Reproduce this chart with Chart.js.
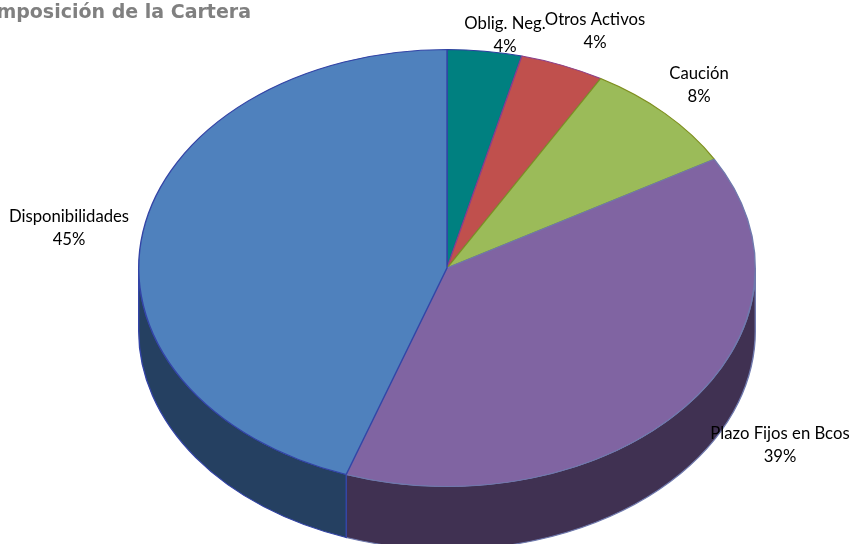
<!DOCTYPE html>
<html>
<head>
<meta charset="utf-8">
<title>Composición de la Cartera</title>
<script src="https://cdn.jsdelivr.net/npm/chart.js@4"></script>
<style>
    html, body { margin: 0; padding: 0; background: #fff; overflow: hidden; }
    #wrap { width: 850px; height: 544px; }
</style>
</head>
<body>
<div id="wrap"><canvas id="chart" width="850" height="544"></canvas></div>
<script>
const chartTitle = 'Composición de la Cartera';
const categories = ['Oblig. Neg.', 'Otros Activos', 'Caución', 'Plazo Fijos en Bcos', 'Disponibilidades'];
const values = [3.9, 4.4, 8.4, 38.6, 44.7];

const topColors = ['#008080', '#C0504D', '#9BBB59', '#8064A2', '#4F81BD'];
const sideColors = ['#004040', '#632725', '#4F6228', '#403152', '#254061'];
const edgeColors = ['#2B3F9E', '#8A3F8A', '#7F8F1F', '#6F79AD', '#3344A6'];

// where each label is centred, same order as categories
const labelX = [505, 595, 699, 780, 69];
const labelY = [24, 20, 74, 434, 217];

const stretchX = 309 / 219; // pie is drawn round and then squashed into the ellipse
const depth = 63;

function squash(chart) {
    const arc = chart.getDatasetMeta(0).data[0];
    const ctx = chart.ctx;
    ctx.translate(arc.x, arc.y);
    ctx.scale(stretchX, 1);
    ctx.translate(-arc.x, -arc.y);
}

const pie3d = {
    id: 'pie3d',
    beforeDatasetsDraw(chart) {
        const ctx = chart.ctx;
        ctx.save();
        squash(chart);
        // side wall, only the part of each slice facing the viewer
        chart.getDatasetMeta(0).data.forEach((arc, i) => {
            const a0 = Math.max(arc.startAngle, 0);
            const a1 = Math.min(arc.endAngle, Math.PI);
            if (a1 <= a0) return;
            ctx.beginPath();
            ctx.arc(arc.x, arc.y, arc.outerRadius, a0, a1);
            ctx.arc(arc.x, arc.y + depth, arc.outerRadius, a1, a0, true);
            ctx.closePath();
            ctx.fillStyle = sideColors[i];
            ctx.fill();
            ctx.strokeStyle = edgeColors[i];
            ctx.lineWidth = 1;
            ctx.stroke();
        });
    },
    afterDatasetsDraw(chart) {
        chart.ctx.restore();
    },
    afterDraw(chart) {
        const ctx = chart.ctx;
        ctx.save();
        ctx.textBaseline = 'middle';
        ctx.textAlign = 'center';
        ctx.fillStyle = '#000';
        ctx.font = '16.7px Lato';
        categories.forEach((name, i) => {
            ctx.fillText(name, labelX[i], labelY[i]);
            ctx.fillText(Math.round(values[i]) + '%', labelX[i], labelY[i] + 23);
        });
        ctx.textAlign = 'right';
        ctx.fillStyle = '#808080';
        ctx.font = 'bold 19px "DejaVu Sans"';
        ctx.fillText(chartTitle, 251, 13);
        ctx.restore();
    }
};

new Chart(document.getElementById('chart'), {
    type: 'pie',
    data: {
        labels: categories,
        datasets: [{
            data: values,
            backgroundColor: topColors,
            borderColor: edgeColors,
            borderWidth: 1
        }]
    },
    options: {
        responsive: false,
        animation: false,
        devicePixelRatio: 1,
        layout: { padding: { left: 228, right: 184, top: 49, bottom: 57 } },
        plugins: {
            legend: { display: false },
            tooltip: { enabled: false }
        }
    },
    plugins: [pie3d]
});
</script>
</body>
</html>
